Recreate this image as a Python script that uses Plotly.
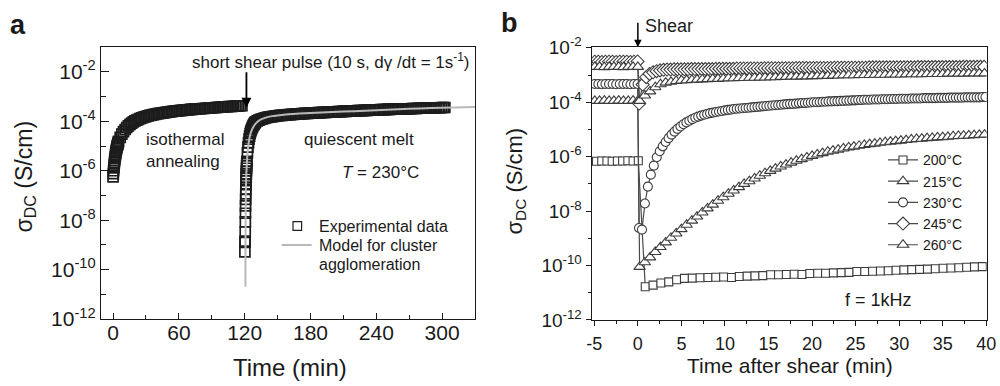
import plotly.graph_objects as go

# ---------------- Panel a : sigma_DC (log10 S/cm) vs time (min) ----------------
anneal_fine_t0, anneal_fine_dt = 0.0, 0.25
anneal_fine_log = [-6.25, -6.12, -6.00, -5.88, -5.77, -5.67, -5.58, -5.50, -5.42, -5.35,
                   -5.28, -5.22, -5.16, -5.11, -5.06, -5.01, -4.97, -4.93, -4.89, -4.85]
anneal_t0, anneal_dt = 5.0, 1.5
anneal_log = [-4.81, -4.65, -4.52, -4.42, -4.33, -4.25, -4.18, -4.12, -4.07, -4.02,
              -3.98, -3.95, -3.92, -3.89, -3.86, -3.84, -3.82, -3.80, -3.78, -3.76,
              -3.75, -3.73, -3.72, -3.70, -3.69, -3.68, -3.67, -3.66, -3.65, -3.64,
              -3.63, -3.62, -3.61, -3.60, -3.59, -3.59, -3.58, -3.57, -3.56, -3.56,
              -3.55, -3.54, -3.54, -3.53, -3.52, -3.52, -3.51, -3.51, -3.50, -3.49,
              -3.49, -3.48, -3.48, -3.47, -3.47, -3.46, -3.46, -3.45, -3.45, -3.44,
              -3.44, -3.43, -3.43, -3.42, -3.42, -3.41, -3.41, -3.40, -3.40, -3.40,
              -3.39, -3.39, -3.38, -3.38, -3.37, -3.37]
quies_fine_t0, quies_fine_dt = 120.2, 0.1
quies_fine_log = [-9.28, -8.90, -8.85, -8.47, -8.07, -7.72, -7.42, -7.16, -6.94, -6.74,
                  -6.56, -6.40, -6.26, -6.13, -6.01, -5.90, -5.80, -5.71, -5.62]
quies_mid_t0, quies_mid_dt = 122.5, 0.5
quies_mid_log = [-5.28, -5.04, -4.86, -4.72, -4.60, -4.50, -4.42, -4.35, -4.29, -4.24,
                 -4.19, -4.15, -4.11, -4.08, -4.05, -4.02]
quies_t0, quies_dt = 131.5, 1.5
quies_log = [-3.98, -3.95, -3.92, -3.90, -3.88, -3.86, -3.84, -3.83, -3.82, -3.81,
             -3.80, -3.79, -3.78, -3.77, -3.76, -3.76, -3.75, -3.74, -3.74, -3.73,
             -3.73, -3.72, -3.72, -3.71, -3.71, -3.70, -3.70, -3.69, -3.69, -3.68,
             -3.68, -3.68, -3.67, -3.67, -3.66, -3.66, -3.66, -3.65, -3.65, -3.65,
             -3.64, -3.64, -3.64, -3.63, -3.63, -3.63, -3.62, -3.62, -3.62, -3.61,
             -3.61, -3.61, -3.60, -3.60, -3.60, -3.59, -3.59, -3.59, -3.58, -3.58,
             -3.58, -3.57, -3.57, -3.57, -3.57, -3.56, -3.56, -3.56, -3.55, -3.55,
             -3.55, -3.55, -3.54, -3.54, -3.54, -3.53, -3.53, -3.53, -3.53, -3.52,
             -3.52, -3.52, -3.51, -3.51, -3.51, -3.51, -3.50, -3.50, -3.50, -3.50,
             -3.49, -3.49, -3.49, -3.49, -3.48, -3.48, -3.48, -3.48, -3.47, -3.47,
             -3.47, -3.47, -3.46, -3.46, -3.46, -3.46, -3.46, -3.45, -3.45, -3.45,
             -3.45, -3.45, -3.44, -3.44, -3.44]
model_t = [120.7, 120.72, 120.8, 120.9, 121.0, 121.2, 121.5, 122.0, 122.5, 123.0,
           124.0, 125.0, 126.0, 128.0, 130.0, 133.0, 136.0, 140.0, 145.0, 150.0,
           160.0, 170.0, 180.0, 200.0, 220.0, 240.0, 260.0, 280.0, 300.0, 330.0]
model_log = [-10.7, -9.6, -8.5, -7.7, -7.15, -6.6, -6.15, -5.7, -5.35, -5.1,
             -4.76, -4.55, -4.41, -4.22, -4.09, -3.97, -3.90, -3.84, -3.79, -3.76,
             -3.71, -3.68, -3.66, -3.62, -3.59, -3.55, -3.51, -3.48, -3.45, -3.42]

# ---------------- Panel b : sigma_DC (log10 S/cm) vs time after shear (min) ----------------
b_labels = ["200°C", "215°C", "230°C", "245°C", "260°C"]
b_symbols = ["square", "triangle-up", "circle", "diamond", "triangle-up"]

b200_pre_t0, b200_pre_dt = -4.75, 0.6
b200_pre = [-6.17, -6.16, -6.16, -6.17, -6.16, -6.16, -6.15, -6.16, -6.15]
b200_post_t0, b200_post_dt = 0.85, 0.9
b200_post = [-10.78, -10.72, -10.64, -10.60, -10.52, -10.47, -10.46, -10.45, -10.44, -10.43,
             -10.42, -10.44, -10.40, -10.39, -10.38, -10.37, -10.34, -10.34, -10.33, -10.32,
             -10.33, -10.29, -10.28, -10.28, -10.27, -10.26, -10.25, -10.22, -10.22, -10.21,
             -10.20, -10.19, -10.17, -10.16, -10.15, -10.14, -10.13, -10.12, -10.10, -10.09,
             -10.08, -10.06, -10.05, -10.04]

b215_pre_t0, b215_pre_dt = -4.95, 0.55
b215_pre = [-3.95, -3.95, -3.94, -3.95, -3.95, -3.94, -3.95, -3.95, -3.94, -3.95]
b215_post_t0, b215_post_dt = 0.2, 0.6
b215_post = [-10.05, -9.88, -9.70, -9.50, -9.32, -9.15, -8.98, -8.82, -8.66, -8.50,
             -8.35, -8.20, -8.05, -7.90, -7.76, -7.62, -7.49, -7.36, -7.24, -7.12,
             -7.00, -6.90, -6.80, -6.70, -6.61, -6.52, -6.44, -6.36, -6.29, -6.22,
             -6.15, -6.09, -6.03, -5.97, -5.92, -5.87, -5.82, -5.78, -5.74, -5.70,
             -5.66, -5.63, -5.60, -5.57, -5.54, -5.52, -5.49, -5.47, -5.45, -5.43,
             -5.41, -5.39, -5.37, -5.35, -5.34, -5.32, -5.31, -5.29, -5.28, -5.27,
             -5.25, -5.24, -5.23, -5.22, -5.21, -5.20, -5.19]

b230_pre_t0, b230_pre_dt = -4.95, 0.41
b230_pre = [-3.33, -3.33, -3.34, -3.33, -3.33, -3.33, -3.34, -3.33, -3.33, -3.33,
            -3.34, -3.33, -3.33]
b230_post_t0, b230_post_dt = 0.13, 0.34
b230_post = [-8.62, -8.68, -7.72, -7.10, -6.66, -6.33, -6.02, -5.80, -5.62, -5.46,
             -5.32, -5.19, -5.08, -4.98, -4.89, -4.81, -4.74, -4.68, -4.62, -4.57,
             -4.53, -4.49, -4.46, -4.43, -4.40, -4.38, -4.36, -4.34, -4.32, -4.30,
             -4.28, -4.27, -4.25, -4.24, -4.23, -4.22, -4.21, -4.20, -4.19, -4.18,
             -4.17, -4.16, -4.15, -4.14, -4.13, -4.12, -4.11, -4.10, -4.09, -4.08,
             -4.07, -4.06, -4.06, -4.05, -4.04, -4.03, -4.03, -4.02, -4.01, -4.00,
             -4.00, -3.99, -3.98, -3.98, -3.97, -3.97, -3.96, -3.96, -3.95, -3.95,
             -3.94, -3.94, -3.93, -3.93, -3.92, -3.92, -3.91, -3.91, -3.91, -3.90,
             -3.90, -3.90, -3.89, -3.89, -3.89, -3.88, -3.88, -3.88, -3.87, -3.87,
             -3.87, -3.87, -3.86, -3.86, -3.86, -3.86, -3.85, -3.85, -3.85, -3.85,
             -3.85, -3.84, -3.84, -3.84, -3.84, -3.83, -3.83, -3.83, -3.83, -3.83,
             -3.82, -3.82, -3.82, -3.82, -3.82, -3.82, -3.81, -3.81]

b245_pre_t0, b245_pre_dt = -4.95, 0.41
b245_pre = [-2.51, -2.51, -2.52, -2.51, -2.51, -2.51, -2.52, -2.51, -2.51, -2.51,
            -2.52, -2.51, -2.50]
b245_post_t0, b245_post_dt = 0.15, 0.4
b245_post = [-4.05, -3.35, -3.08, -2.96, -2.90, -2.86, -2.83, -2.81, -2.80, -2.80,
             -2.79, -2.79, -2.79, -2.79, -2.79, -2.78, -2.78, -2.78, -2.78, -2.78,
             -2.78, -2.78, -2.77, -2.77, -2.77, -2.77, -2.77, -2.77, -2.76, -2.76,
             -2.76, -2.76, -2.76, -2.76, -2.76, -2.76, -2.75, -2.75, -2.75, -2.75,
             -2.75, -2.75, -2.75, -2.75, -2.75, -2.74, -2.74, -2.74, -2.74, -2.74,
             -2.74, -2.74, -2.74, -2.74, -2.74, -2.74, -2.73, -2.73, -2.73, -2.73,
             -2.73, -2.73, -2.73, -2.73, -2.73, -2.73, -2.72, -2.72, -2.72, -2.72,
             -2.72, -2.72, -2.72, -2.72, -2.72, -2.72, -2.72, -2.72, -2.72, -2.72,
             -2.71, -2.71, -2.71, -2.71, -2.71, -2.71, -2.71, -2.71, -2.71, -2.71,
             -2.71, -2.71, -2.71, -2.70, -2.70, -2.70, -2.70, -2.70, -2.70, -2.70]

b260_pre_t0, b260_pre_dt = -4.95, 0.55
b260_pre = [-2.70, -2.70, -2.71, -2.70, -2.70, -2.70, -2.71, -2.70, -2.70, -2.70]
b260_post_t0, b260_post_dt = 0.2, 0.6
b260_post = [-3.95, -3.75, -3.60, -3.45, -3.34, -3.28, -3.25, -3.22, -3.20, -3.19,
             -3.18, -3.17, -3.16, -3.15, -3.14, -3.14, -3.13, -3.12, -3.12, -3.11,
             -3.11, -3.10, -3.10, -3.09, -3.09, -3.08, -3.08, -3.07, -3.07, -3.06,
             -3.06, -3.05, -3.05, -3.04, -3.04, -3.03, -3.03, -3.02, -3.02, -3.01,
             -3.01, -3.01, -3.00, -3.00, -3.00, -2.99, -2.99, -2.99, -2.98, -2.98,
             -2.98, -2.97, -2.97, -2.97, -2.97, -2.96, -2.96, -2.96, -2.96, -2.95,
             -2.95, -2.95, -2.95, -2.94, -2.94, -2.94, -2.94]

a_xticks = [0, 60, 120, 180, 240, 300]
a_xminor = [30, 90, 150, 210, 270]
b_xticks = [-5, 0, 5, 10, 15, 20, 25, 30, 35, 40]
b_xminor = [-2.5, 2.5, 7.5, 12.5, 17.5, 22.5, 27.5, 32.5, 37.5]
y_exps = [-12, -10, -8, -6, -4, -2]
y_minor_exps = [-11, -9, -7, -5, -3]
a_legend_labels = ["Experimental data", "Model for cluster", "agglomeration"]


def times(t0, dt, vals):
    return [round(t0 + dt * i, 3) for i in range(len(vals))]


def lin(vals):
    return [10.0 ** v for v in vals]


FONT = "Liberation Sans, Arial, sans-serif"
INK = "#1a1a1a"
MK = "#3c3c3c"
MODEL = "#b9b9b9"

fig = go.Figure()

# Panel a traces
a_t = (times(anneal_fine_t0, anneal_fine_dt, anneal_fine_log)
       + times(anneal_t0, anneal_dt, anneal_log)
       + times(quies_fine_t0, quies_fine_dt, quies_fine_log)
       + times(quies_mid_t0, quies_mid_dt, quies_mid_log)
       + times(quies_t0, quies_dt, quies_log))
a_v = anneal_fine_log + anneal_log + quies_fine_log + quies_mid_log + quies_log
fig.add_trace(go.Scatter(
    x=a_t, y=lin(a_v), mode="markers", name=a_legend_labels[0], showlegend=False,
    marker=dict(symbol="square-open", size=10, color="#1c1c1c", line=dict(width=1.7)),
    xaxis="x", yaxis="y"))
fig.add_trace(go.Scatter(
    x=model_t, y=lin(model_log), mode="lines", name=" ".join(a_legend_labels[1:]), showlegend=False,
    line=dict(color=MODEL, width=2, shape="spline", smoothing=0.6),
    xaxis="x", yaxis="y"))

# Panel b traces
b_series = [
    (b200_pre_t0, b200_pre_dt, b200_pre, b200_post_t0, b200_post_dt, b200_post, 8),
    (b215_pre_t0, b215_pre_dt, b215_pre, b215_post_t0, b215_post_dt, b215_post, 10),
    (b230_pre_t0, b230_pre_dt, b230_pre, b230_post_t0, b230_post_dt, b230_post, 9),
    (b245_pre_t0, b245_pre_dt, b245_pre, b245_post_t0, b245_post_dt, b245_post, 10),
    (b260_pre_t0, b260_pre_dt, b260_pre, b260_post_t0, b260_post_dt, b260_post, 10),
]
for (p0, pd, pv, q0, qd, qv, sz), lab, sym in zip(b_series, b_labels, b_symbols):
    fig.add_trace(go.Scatter(
        x=times(p0, pd, pv) + times(q0, qd, qv), y=lin(pv + qv),
        mode="lines+markers", name=lab,
        line=dict(color="#4a4a4a", width=1.2),
        marker=dict(symbol=sym, size=sz, color="white", line=dict(color=MK, width=1.1)),
        xaxis="x2", yaxis="y2", legend="legend2"))

ytext = ["10<sup>%d</sup>" % e for e in y_exps]
common_axis = dict(showline=True, mirror=True, linecolor=INK, linewidth=1.3,
                   showgrid=False, zeroline=False, tickcolor=INK, tickwidth=1.3)

fig.update_layout(
    width=1000, height=386, margin=dict(l=0, r=0, t=0, b=0, autoexpand=False),
    paper_bgcolor="white", plot_bgcolor="white",
    font=dict(family=FONT, color=INK),
    showlegend=True,
    xaxis=dict(domain=[0.101, 0.475], range=[-11, 330], anchor="y",
               tickmode="array", tickvals=a_xticks, ticks="inside", ticklen=6,
               ticklabelstandoff=-5,
               minor=dict(tickvals=a_xminor, ticks="inside", ticklen=4, tickcolor=INK, tickwidth=1.2),
               tickfont=dict(size=21), **common_axis),
    yaxis=dict(domain=[0.1736, 0.879], type="log", range=[-12, -0.98], anchor="x",
               tickmode="array", tickvals=[10.0 ** e for e in y_exps], ticktext=ytext,
               ticks="inside", ticklen=8,
               minor=dict(tickvals=[10.0 ** e for e in y_minor_exps], ticks="inside", ticklen=5,
                          tickcolor=INK, tickwidth=1.2),
               tickfont=dict(size=21), **common_axis),
    xaxis2=dict(domain=[0.5917, 0.9867], range=[-5.3, 40.05], anchor="y2",
                tickmode="array", tickvals=b_xticks, ticktext=[str(v) for v in b_xticks],
                ticks="outside", ticklen=5, ticklabelstandoff=2,
                minor=dict(tickvals=b_xminor, ticks="outside", ticklen=3, tickcolor=INK, tickwidth=1.2),
                tickfont=dict(size=18), **common_axis),
    yaxis2=dict(domain=[0.171, 0.879], type="log", range=[-12, -1.96], anchor="x2",
                tickmode="array", tickvals=[10.0 ** e for e in y_exps], ticktext=ytext,
                ticks="outside", ticklen=5,
                minor=dict(tickvals=[10.0 ** e for e in y_minor_exps], ticks="outside", ticklen=3,
                           tickcolor=INK, tickwidth=1.2),
                tickfont=dict(size=19), **common_axis),
    legend2=dict(x=0.883, y=0.626, xanchor="left", yanchor="top",
                 bgcolor="rgba(0,0,0,0)", font=dict(size=14), itemwidth=30, tracegroupgap=0),
)

ann = [
    dict(text="<b>a</b>", x=0.018, y=1 - 25 / 386, font=dict(size=27)),
    dict(text="<b>b</b>", x=0.509, y=1 - 23 / 386, font=dict(size=27)),
    dict(text="σ<sub>DC</sub> (S/cm)", x=0.025, y=1 - 176.5 / 386, textangle=-90, font=dict(size=23)),
    dict(text="σ<sub>DC</sub> (S/cm)", x=0.515, y=1 - 181.5 / 386, textangle=-90, font=dict(size=22)),
    dict(text="Time (min)", x=0.290, y=1 - 367 / 386, font=dict(size=24)),
    dict(text="Time after shear (min)", x=0.790, y=1 - 365 / 386, font=dict(size=21)),
    dict(text="short shear pulse (10 s, dγ /dt = 1s<sup>-1</sup>)", x=0.331, y=1 - 61 / 386, font=dict(size=17)),
    dict(text="isothermal<br>annealing", x=0.144, y=1 - 150.5 / 386, xanchor="left", align="left", font=dict(size=17)),
    dict(text="quiescent melt", x=0.302, y=1 - 140 / 386, xanchor="left", font=dict(size=17)),
    dict(text="<i>T</i> = 230°C", x=0.340, y=1 - 172 / 386, xanchor="left", font=dict(size=17)),
    dict(text="Shear", x=0.643, y=1 - 26 / 386, xanchor="left", font=dict(size=18)),
    dict(text="f = 1kHz", x=0.843, y=1 - 300 / 386, xanchor="left", font=dict(size=18)),
    # panel a legend texts
    dict(text=a_legend_labels[0], x=0.317, y=1 - 226 / 386, xanchor="left", font=dict(size=16)),
    dict(text=a_legend_labels[1], x=0.317, y=1 - 245 / 386, xanchor="left", font=dict(size=16)),
    dict(text=a_legend_labels[2], x=0.317, y=1 - 264 / 386, xanchor="left", font=dict(size=16)),
]
for a in ann:
    a.setdefault("xanchor", "center")
    a.update(xref="paper", yref="paper", yanchor="middle", showarrow=False)
    fig.add_annotation(**a)

# panel a legend symbols (paper coordinates)
fig.add_shape(type="rect", xref="paper", yref="paper",
              x0=0.2930, x1=0.3016, y0=1 - 230.3 / 386, y1=1 - 221.7 / 386,
              line=dict(color="#202020", width=1.2), fillcolor="white")
fig.add_shape(type="line", xref="paper", yref="paper",
              x0=0.2817, x1=0.3117, y0=1 - 245 / 386, y1=1 - 245 / 386,
              line=dict(color=MODEL, width=2))

# arrows (data coordinates; log axes take log10 values)
fig.add_annotation(x=121.6, y=-3.45, xref="x", yref="y", ax=0, ay=-37, text="",
                   showarrow=True, arrowhead=2, arrowsize=1.1, arrowwidth=1.8, arrowcolor="#000")
fig.add_annotation(x=0.0, y=-1.98, xref="x2", yref="y2", ax=0, ay=-26, text="",
                   showarrow=True, arrowhead=2, arrowsize=1.0, arrowwidth=1.5, arrowcolor="#000")

fig.write_html("out.html",
               post_script="document.body.style.margin='0px';document.body.style.padding='0px';"
                           "document.documentElement.style.overflow='hidden';")
